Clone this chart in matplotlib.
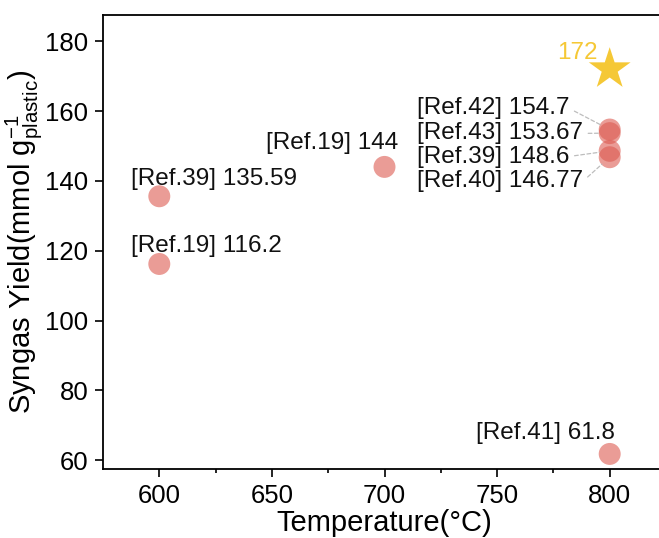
import matplotlib
matplotlib.use("Agg")
import matplotlib.pyplot as plt

plt.rcParams['font.family'] = ['Liberation Sans', 'DejaVu Sans']
plt.rcParams['mathtext.fontset'] = 'custom'
plt.rcParams['mathtext.rm'] = 'Liberation Sans'
plt.rcParams['mathtext.it'] = 'Liberation Sans:italic'
plt.rcParams['mathtext.bf'] = 'Liberation Sans:bold'

# ---- data ----
temps = [600, 600, 700, 800, 800, 800, 800, 800]
yields = [135.59, 116.2, 144, 154.7, 153.67, 148.6, 146.77, 61.8]
refs = ['[Ref.39]', '[Ref.19]', '[Ref.19]', '[Ref.42]', '[Ref.43]',
        '[Ref.39]', '[Ref.40]', '[Ref.41]']
this_work_temp = 800
this_work_yield = 172

x_ticks = [600, 650, 700, 750, 800]
y_ticks = [60, 80, 100, 120, 140, 160, 180]

# ---- layout (offsets in points for labels) ----
offsets = [(-20.6, 8.4), (-20.6, 8.9), (-85.2, 13.2), (-139, 10.9),
           (-139, -4.5), (-139, -8.4), (-139, -21.7), (-96, 10.5)]
leaders = [False, False, False, True, True, True, True, False]

W, H = 659, 538
fig = plt.figure(figsize=(W / 100, H / 100), dpi=100)
ax = fig.add_axes([103 / W, (H - 469.3) / H, (666 - 103) / W, (469.3 - 15) / H])

circle_color = '#DC5A50'
gold = '#F5C836'

ax.scatter(temps, yields, s=250, color=circle_color, alpha=0.6,
           edgecolors='none', zorder=3)
ax.scatter([this_work_temp], [this_work_yield], s=1000, marker='*',
           color=gold, edgecolors='none', zorder=4)

for t, v, r, off, lead in zip(temps, yields, refs, offsets, leaders):
    kw = {}
    if lead:
        kw['arrowprops'] = dict(arrowstyle='-', color='#BDBDBD', lw=0.9,
                                linestyle=(0, (3, 2)), shrinkA=2, shrinkB=7.5,
                                relpos=(1, 0.5))
    ax.annotate(f'{r} {v:g}', xy=(t, v), xytext=off, textcoords='offset points',
                ha='left', va='baseline', fontsize=17.5, color='#111111',
                zorder=5, **kw)

ax.annotate(f'{this_work_yield:g}', xy=(this_work_temp, this_work_yield),
            xytext=(-38.2, 7.1), textcoords='offset points', ha='left',
            va='baseline', fontsize=17.5, color=gold, zorder=5)

ax.set_xlim(575, 825)
ax.set_ylim(57.4, 187.5)
ax.set_xticks(x_ticks)
ax.set_xticks([625, 675, 725, 775], minor=True)
ax.set_yticks(y_ticks)

for s in ax.spines.values():
    s.set_linewidth(1.3)
ax.spines['right'].set_visible(False)
ax.tick_params(axis='both', which='major', direction='out', length=5.5,
               width=1.2, labelsize=18.5, pad=5)
ax.tick_params(axis='x', which='minor', direction='out', length=3, width=1.2)

ax.set_xlabel('Temperature(°C)', fontsize=21, labelpad=1)
ax.set_ylabel('Syngas Yield(mmol g$^{-1}_{\\mathrm{plastic}}$)', fontsize=21,
              labelpad=1)

fig.savefig('out.png', dpi=100)
